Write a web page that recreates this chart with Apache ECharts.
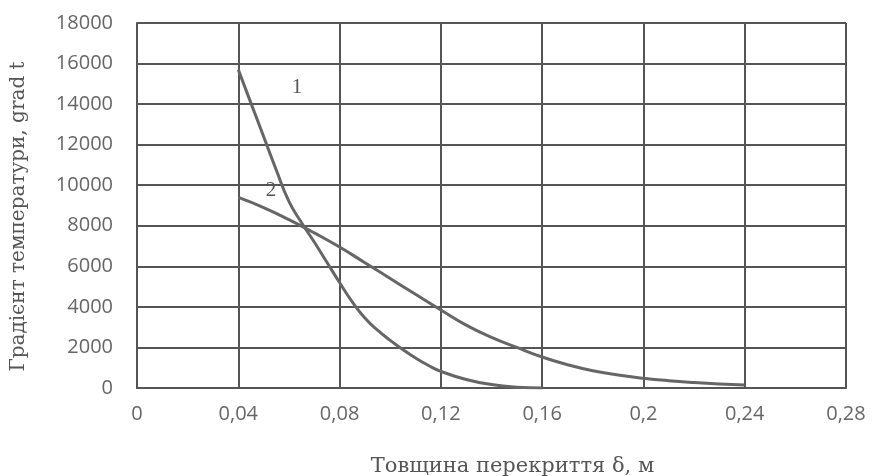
<!DOCTYPE html>
<html>
<head>
<meta charset="utf-8">
<script src="https://cdn.jsdelivr.net/npm/echarts@6/dist/echarts.min.js"></script>
<style>html,body{margin:0;padding:0;background:#fff}#c{width:877px;height:476px}</style>
</head>
<body>
<div id="c"></div>
<script>
// Curve 1: x (m), gradient
const x1 = [0.04, 0.045, 0.05, 0.055, 0.06, 0.065, 0.07, 0.075, 0.08, 0.085, 0.09, 0.095, 0.1, 0.105, 0.11, 0.115, 0.12, 0.13, 0.14, 0.15, 0.16];
const y1 = [15700, 14050, 12400, 10750, 9200, 8150, 7200, 6200, 5200, 4250, 3450, 2850, 2350, 1900, 1480, 1120, 820, 420, 170, 40, 0];
// Curve 2
const x2 = [0.04, 0.05, 0.06, 0.07, 0.08, 0.09, 0.1, 0.11, 0.12, 0.13, 0.14, 0.15, 0.16, 0.17, 0.18, 0.19, 0.2, 0.21, 0.22, 0.23, 0.24];
const y2 = [9400, 8900, 8300, 7650, 6950, 6180, 5400, 4620, 3850, 3100, 2500, 2000, 1530, 1150, 850, 640, 480, 360, 270, 200, 150];
const curveLabels = ['1', '2'];
const labelPos = [[0.0632, 14800], [0.0529, 9750]];

const zip = (a, b) => a.map((v, i) => [v, b[i]]);
const lineCol = '#666';
const gridCol = '#555';
const lblStyle = t => ({show: true, position: 'inside', formatter: t, fontFamily: 'Liberation Serif', fontSize: 21, color: '#555'});
const chart = echarts.init(document.getElementById('c'));
chart.setOption({
  animation: false,
  grid: {left: 137, right: 31, top: 23, bottom: 88, containLabel: false, outerBoundsMode: 'none'},
  xAxis: {
    type: 'value', min: 0, max: 0.28, interval: 0.04,
    name: 'Товщина перекриття δ, м', nameLocation: 'middle', nameGap: 68,
    nameTextStyle: {fontFamily: 'DejaVu Serif', fontSize: 21, color: '#555', padding: [0, 0, 0, 42]},
    axisLine: {show: true, lineStyle: {color: gridCol, width: 2}},
    axisTick: {show: false},
    splitLine: {show: true, lineStyle: {color: gridCol, width: 2}},
    axisLabel: {margin: 16, fontFamily: 'Open Sans', fontSize: 20, color: '#666',
      formatter: v => String(+v.toFixed(2)).replace('.', ',')}
  },
  yAxis: {
    type: 'value', min: 0, max: 18000, interval: 2000,
    name: 'Градієнт температури, grad t', nameLocation: 'middle', nameGap: 108,
    nameTextStyle: {fontFamily: 'DejaVu Serif', fontSize: 20, color: '#555', padding: [0, 22, 0, 0]},
    axisLine: {show: true, lineStyle: {color: gridCol, width: 2}},
    axisTick: {show: false},
    splitLine: {show: true, lineStyle: {color: gridCol, width: 2}},
    axisLabel: {margin: 24, fontFamily: 'Open Sans', fontSize: 20, color: '#666',
      formatter: v => String(v)}
  },
  series: [
    {type: 'line', data: zip(x1, y1), smooth: 0.5, symbol: 'none',
     lineStyle: {color: lineCol, width: 3},
     markPoint: {symbol: 'circle', symbolSize: 24, itemStyle: {color: 'rgba(0,0,0,0)'},
       data: [{coord: labelPos[0], value: curveLabels[0]}], label: lblStyle(curveLabels[0])}},
    {type: 'line', data: zip(x2, y2), smooth: 0.5, symbol: 'none',
     lineStyle: {color: lineCol, width: 3},
     markPoint: {symbol: 'circle', symbolSize: 24, itemStyle: {color: 'rgba(0,0,0,0)'},
       data: [{coord: labelPos[1], value: curveLabels[1]}], label: lblStyle(curveLabels[1])}}
  ]
});
</script>
</body>
</html>
